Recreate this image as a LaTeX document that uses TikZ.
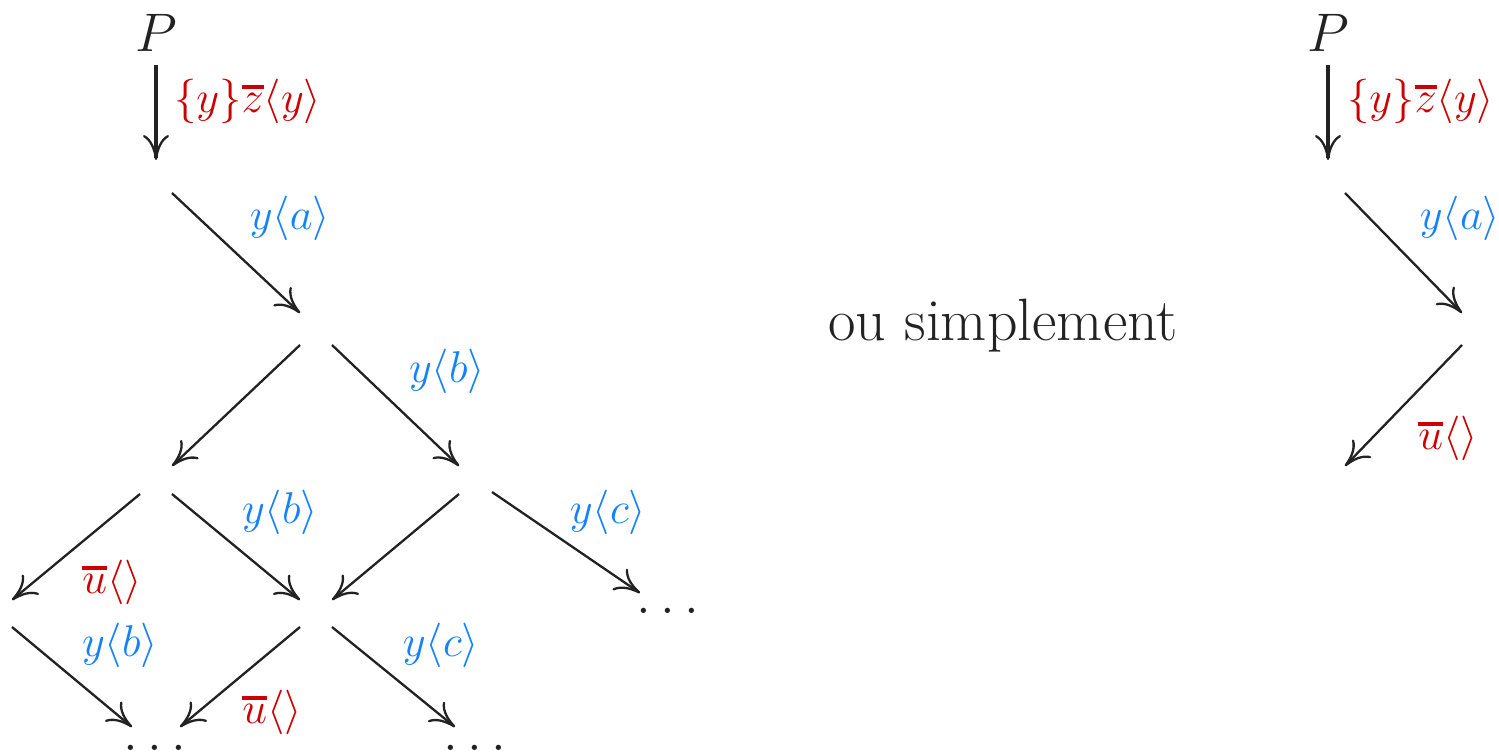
\RequirePackage{fix-cm}
\documentclass[tikz,border=0pt]{standalone}
\usepackage{exscale}
\usetikzlibrary{arrows.meta}
\definecolor{lred}{RGB}{204,0,0}
\definecolor{lblue}{RGB}{20,130,255}
\newcommand\barover[1]{\mathord{\vbox{\hrule height 3.6pt depth 0pt\kern 4pt\hbox{$#1$}}}}
\tikzset{
  edge/.style={draw={rgb,255:red,34;green,34;blue,34}, line width=2.3pt, -{Computer Modern Rightarrow[length=25pt,width=26pt,line width=2.3pt]}},
  thick edge/.style={edge, line width=3.8pt},
  lab/.style={inner sep=0pt, font=\fontsize{44.5}{52}\selectfont},
  red lab/.style={lab, text=lred},
  blue lab/.style={lab, text=lblue},
  big/.style={inner sep=0pt, text={rgb,255:red,34;green,34;blue,34}, font=\fontsize{54.3}{64}\selectfont},
  bigtext/.style={inner sep=0pt, text={rgb,255:red,34;green,34;blue,34}, font=\fontsize{59.8}{70}\selectfont},
}
\begin{document}
\begin{tikzpicture}[x=1pt,y=-1pt]
\useasboundingbox (0,0) rectangle (1499,753);
% ---------- left tree ----------
\node[big] (P1) at (156,33) {$P$};
\coordinate (p1s) at (156,65);  \coordinate (p1e) at (156,160);
\draw[thick edge] (p1s) -- (p1e);
\node[red lab, anchor=west] (l1) at (174,101) {$\{y\}\barover{z}\langle y\rangle$};
\coordinate (a1s) at (172,193); \coordinate (a1e) at (300,313);
\draw[edge] (a1s) -- (a1e);
\node[blue lab] (l2) at (290,218) {$y\langle a\rangle$};
% second level
\coordinate (b1s) at (300,345); \coordinate (b1e) at (172,466);
\coordinate (b2s) at (332,345); \coordinate (b2e) at (459,466);
\draw[edge] (b1s) -- (b1e);
\draw[edge] (b2s) -- (b2e);
\node[blue lab] (l3) at (447,371) {$y\langle b\rangle$};
% third level, left vertex
\coordinate (c1s) at (140,494); \coordinate (c1e) at (12,600);
\coordinate (c2s) at (172,494); \coordinate (c2e) at (300,600);
\draw[edge] (c1s) -- (c1e);
\draw[edge] (c2s) -- (c2e);
\node[red lab] (l4) at (112,582) {$\barover{u}\langle\rangle$};
\node[blue lab] (l5) at (280,512) {$y\langle b\rangle$};
% third level, right vertex
\coordinate (d1s) at (459,494); \coordinate (d1e) at (332,600);
\coordinate (d2s) at (492,492); \coordinate (d2e) at (640,593);
\draw[edge] (d1s) -- (d1e);
\draw[edge] (d2s) -- (d2e);
\node[blue lab] (l6) at (608,512) {$y\langle c\rangle$};
\node[big] (dots1) at (668,611) {$\ldots$};
% fourth level
\coordinate (e1s) at (12,627); \coordinate (e1e) at (132,727);
\draw[edge] (e1s) -- (e1e);
\node[blue lab] (l7) at (120,645) {$y\langle b\rangle$};
\coordinate (f1s) at (300,627); \coordinate (f1e) at (180,727);
\coordinate (f2s) at (332,627); \coordinate (f2e) at (455,727);
\draw[edge] (f1s) -- (f1e);
\draw[edge] (f2s) -- (f2e);
\node[red lab] (l8) at (272,712) {$\barover{u}\langle\rangle$};
\node[blue lab] (l9) at (441,645) {$y\langle c\rangle$};
\node[big] (dots2) at (155,748) {$\ldots$};
\node[big] (dots3) at (475,748) {$\ldots$};
% ---------- middle text ----------
\node[bigtext] (ou) at (1003,326) {ou simplement};
% ---------- right tree ----------
\node[big] (P2) at (1328,33) {$P$};
\coordinate (q1s) at (1328,65);  \coordinate (q1e) at (1328,160);
\draw[thick edge] (q1s) -- (q1e);
\node[red lab, anchor=west] (r1) at (1347,101) {$\{y\}\barover{z}\langle y\rangle$};
\coordinate (q2s) at (1345,193); \coordinate (q2e) at (1462,313);
\draw[edge] (q2s) -- (q2e);
\node[blue lab] (r2) at (1460,218) {$y\langle a\rangle$};
\coordinate (q3s) at (1462,345); \coordinate (q3e) at (1345,466);
\draw[edge] (q3s) -- (q3e);
\node[red lab] (r3) at (1448,438) {$\barover{u}\langle\rangle$};
\end{tikzpicture}
\end{document}
